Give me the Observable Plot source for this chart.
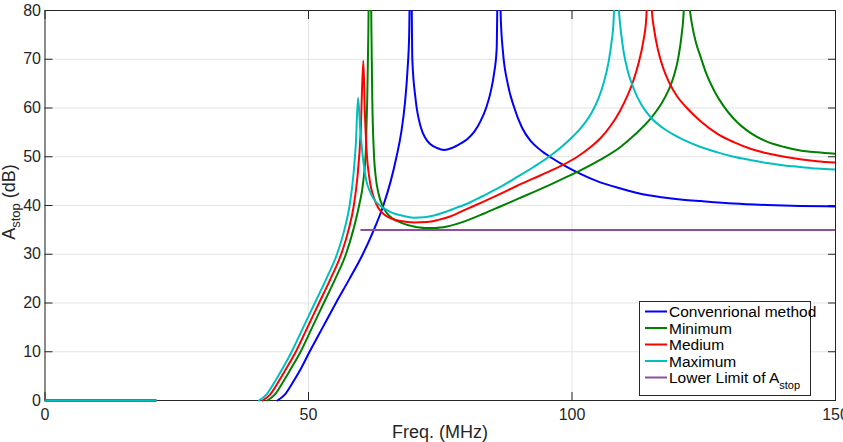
<!DOCTYPE html>
<html>
<head>
<meta charset="utf-8">
<script src="https://cdn.jsdelivr.net/npm/d3@7"></script>
<script src="https://cdn.jsdelivr.net/npm/@observablehq/plot@0.6"></script>
<style>
  html, body { margin: 0; padding: 0; background: #fff; }
  #chart { width: 843px; height: 442px; overflow: hidden; }
</style>
</head>
<body>
<div id="chart"></div>
<script>
// Axis ticks
const xTicks = [0, 50, 100, 150];
const yTicks = [0, 10, 20, 30, 40, 50, 60, 70, 80];

// Stop-band attenuation A_stop (dB) against frequency (MHz), as [freq, dB].
// A NaN entry breaks the trace; values above 80 dB are resonance peaks cut by the frame.
const conventional = [
  [0, 0], [21, 0], [30, NaN],
  [44.1, 0], [45.5, 1.2], [46.9, 3.5], [48.5, 6.4], [50.2, 10], [52.7, 15], [55.2, 20], [57.8, 25],
  [60.3, 30], [62.4, 35], [64.2, 40], [65.6, 45], [66.7, 50], [67.6, 55], [68.3, 61], [68.8, 68],
  [69.1, 75], [69.3, 88], [69.5, 88], [69.7, 70], [70.3, 62], [71.3, 56.1], [72.2, 53.8], [73.1, 52.6],
  [74.4, 51.8], [75.7, 51.4], [77.2, 51.8], [78.8, 52.7], [80.1, 53.6], [81.5, 55.2], [82.6, 57.2],
  [83.7, 60], [84.5, 63], [85.2, 67], [85.7, 72], [85.95, 88], [86.25, 88], [86.5, 78], [86.9, 71.5],
  [87.8, 65], [89, 60.2], [90.5, 56], [92.1, 53.3], [94, 51.4], [96.1, 49.8], [98.4, 48.3],
  [101.6, 46.5], [105, 44.9], [109.2, 43.5], [113, 42.4], [117, 41.7], [121, 41.2], [124.4, 40.9],
  [130.7, 40.4], [137, 40.1], [143.3, 39.9], [150, 39.8]
];
const minimum = [
  [0, 0], [21, 0], [30, NaN],
  [42.2, 0], [43.6, 1.2], [45, 3.5], [46.6, 6.4], [48.5, 10], [50.7, 15], [52.9, 20], [55.1, 25],
  [57.1, 30], [58.5, 35], [59.6, 40], [60.4, 45], [60.9, 52], [61.15, 62], [61.35, 75], [61.5, 88],
  [61.8, 88], [61.95, 75], [62.1, 62], [62.4, 51], [62.8, 45.5], [63.3, 42.4], [64, 40], [64.9, 38.4],
  [66, 37.3], [67.5, 36.5], [70, 35.7], [72, 35.4], [74, 35.4], [76.3, 35.7], [80, 36.9], [83.2, 38.3],
  [86.4, 39.8], [89.6, 41.3], [92.8, 42.8], [95.9, 44.3], [98.7, 45.7], [101.6, 47.2], [105.4, 49.4],
  [109.2, 52], [112, 54.6], [114.9, 57.8], [116.8, 60.6], [118.3, 63.6], [119.4, 66.8], [120.2, 70.5],
  [120.8, 75], [121.2, 80], [121.45, 88], [121.9, 88], [122.3, 81], [122.8, 77], [123.5, 73.5],
  [124.4, 70.5], [125.5, 67], [127, 63.5], [128.7, 60.5], [130.7, 57.8], [134, 54.8], [137, 53.1],
  [140.3, 52], [143.3, 51.3], [146.5, 50.9], [150, 50.6]
];
const medium = [
  [0, 0], [21, 0], [30, NaN],
  [41.3, 0], [42.7, 1.2], [44.1, 3.5], [45.7, 6.4], [47.6, 10], [49.8, 15], [52, 20], [54.2, 25],
  [56.2, 30], [57.6, 35], [58.6, 40], [59.3, 46], [59.9, 55], [60.4, 69.7], [60.7, 59], [61.1, 50],
  [61.5, 46], [61.9, 43.5], [62.5, 41.3], [63.2, 39.6], [64.2, 38.3], [65.5, 37.4], [67.5, 36.8],
  [70, 36.5], [72.5, 36.6], [74.5, 37], [77, 37.8], [80.1, 39.3], [83, 40.7], [86.4, 42.4], [89.5, 44],
  [92.8, 45.6], [95.9, 47.1], [98.4, 48.4], [101, 50], [103.3, 51.8], [105.4, 53.8], [107.3, 56.3],
  [109, 59.2], [110.5, 62.5], [111.7, 65.8], [112.7, 69.5], [113.5, 73.5], [114.1, 78.5], [114.45, 88],
  [114.8, 88], [115.15, 80], [115.6, 76], [116.3, 72], [117.2, 68.5], [118.4, 65.3], [120, 62.3],
  [121.8, 60], [124.4, 57.3], [127.6, 54.7], [130.7, 53], [134, 51.6], [137, 50.7], [140.3, 50],
  [143.3, 49.5], [146.5, 49.1], [150, 48.8]
];
const maximum = [
  [0, 0], [21, 0], [30, NaN],
  [40.6, 0], [42, 1.2], [43.4, 3.5], [45, 6.4], [46.8, 10], [49, 15], [51.2, 20], [53.4, 25],
  [55.4, 30], [56.8, 35], [57.8, 40], [58.5, 46], [59, 53], [59.4, 62.1], [59.8, 56], [60.2, 51],
  [60.6, 47.5], [61, 45], [61.6, 43], [62.3, 41.5], [63.2, 40.3], [64.2, 39.5], [65.5, 38.7],
  [66.7, 38.2], [68.3, 37.8], [70, 37.5], [72, 37.6], [74, 38], [76.3, 38.8], [78, 39.5], [80, 40.3],
  [83, 41.9], [86.4, 43.8], [89.5, 45.8], [92.7, 47.9], [95.9, 50.2], [98.2, 52.2], [100.3, 54.3],
  [102.2, 56.6], [103.8, 59.2], [105.1, 62.2], [106.1, 65.5], [106.9, 69.2], [107.5, 73.5], [107.9, 78],
  [108.2, 88], [108.5, 88], [108.9, 80], [109.3, 75.5], [109.8, 71.5], [110.6, 67.5], [111.7, 64],
  [113.2, 60.6], [115, 58], [117, 56.1], [119.2, 54.6], [121.3, 53.4], [124.4, 52], [127.6, 50.9],
  [130.7, 50], [134, 49.3], [137, 48.7], [140.3, 48.2], [143.3, 47.9], [146.5, 47.6], [150, 47.4]
];
const lowerLimit = [[60, 35], [150, 35]];

const seriesNames = ["Convenrional method", "Minimum", "Medium", "Maximum", "Lower Limit of A"];
const seriesColors = ["#0000ff", "#008000", "#ff0000", "#00bfbf", "#8a4f9e"];
const seriesData = [conventional, minimum, medium, maximum, lowerLimit];

const font = "'Liberation Sans', Arial, Helvetica, sans-serif";
const ink = "#262626";

const traces = seriesData.map((pts, i) =>
  Plot.line(pts, {
    x: d => d[0],
    y: d => d[1],
    stroke: seriesColors[i],
    strokeWidth: 2,
    curve: "monotone-x",
    clip: true
  })
);

const plot = Plot.plot({
  width: 843,
  height: 442,
  marginLeft: 44.5,
  marginRight: 8,
  marginTop: 10,
  marginBottom: 42,
  style: { fontFamily: font, fontSize: "16px", color: ink, background: "#fff" },
  x: { domain: [0, 150] },
  y: { domain: [0, 80] },
  marks: [
    Plot.gridX(xTicks, { stroke: "#e3e3e3", strokeOpacity: 1 }),
    Plot.gridY(yTicks, { stroke: "#e3e3e3", strokeOpacity: 1 }),
    Plot.frame({ stroke: ink, strokeWidth: 1 }),
    // inward ticks on all four sides
    Plot.axisX(xTicks, { anchor: "bottom", tickSize: 8, dy: -8, tickFormat: () => "", label: null, stroke: ink }),
    Plot.axisX(xTicks, { anchor: "top", tickSize: 8, dy: 8, tickFormat: () => "", label: null, stroke: ink }),
    Plot.axisY(yTicks, { anchor: "left", tickSize: 8, dx: 8, tickFormat: () => "", label: null, stroke: ink }),
    Plot.axisY(yTicks, { anchor: "right", tickSize: 8, dx: -8, tickFormat: () => "", label: null, stroke: ink }),
    // tick labels
    Plot.axisX(xTicks, { anchor: "bottom", tickSize: 0, tickPadding: 8, label: null, fill: ink }),
    Plot.axisY(yTicks, { anchor: "left", tickSize: 0, tickPadding: 4, label: null, fill: ink }),
    ...traces
  ]
});

document.getElementById("chart").append(plot);

const svg = d3.select(plot);

// Let the traces' clip region reach slightly below the x axis so 0 dB lines show in full
svg.selectAll("clipPath rect").each(function () {
  const r = d3.select(this);
  r.attr("height", +r.attr("height") + 2);
});

// Axis titles
svg.append("text")
  .attr("x", 440).attr("y", 437.5)
  .attr("text-anchor", "middle")
  .attr("font-family", font).attr("font-size", 18).attr("fill", ink)
  .text("Freq. (MHz)");

const yTitle = svg.append("text")
  .attr("transform", "translate(15,202) rotate(-90)")
  .attr("text-anchor", "middle")
  .attr("font-family", font).attr("font-size", 18).attr("fill", ink);
yTitle.append("tspan").text("A");
yTitle.append("tspan").attr("dy", 5).attr("font-size", 13).text("stop");
yTitle.append("tspan").attr("dy", -5).text(" (dB)");

// Legend
const lg = svg.append("g")
  .attr("font-family", font).attr("font-size", 15.5)
  .attr("fill", "#000").attr("text-anchor", "start");
lg.append("rect")
  .attr("x", 639.5).attr("y", 301.5).attr("width", 171).attr("height", 94)
  .attr("fill", "#fff").attr("stroke", ink);
seriesNames.forEach((name, i) => {
  const y = 311.5 + i * 16.5;
  lg.append("line")
    .attr("x1", 645).attr("x2", 667).attr("y1", y).attr("y2", y)
    .attr("stroke", seriesColors[i]).attr("stroke-width", 2);
  const t = lg.append("text")
    .attr("x", 669).attr("y", y).attr("dy", "0.36em").attr("text-anchor", "start");
  t.append("tspan").text(name);
  if (i === seriesNames.length - 1) {
    t.append("tspan").attr("dy", 6).attr("font-size", 11).text("stop");
  }
});
</script>
</body>
</html>
